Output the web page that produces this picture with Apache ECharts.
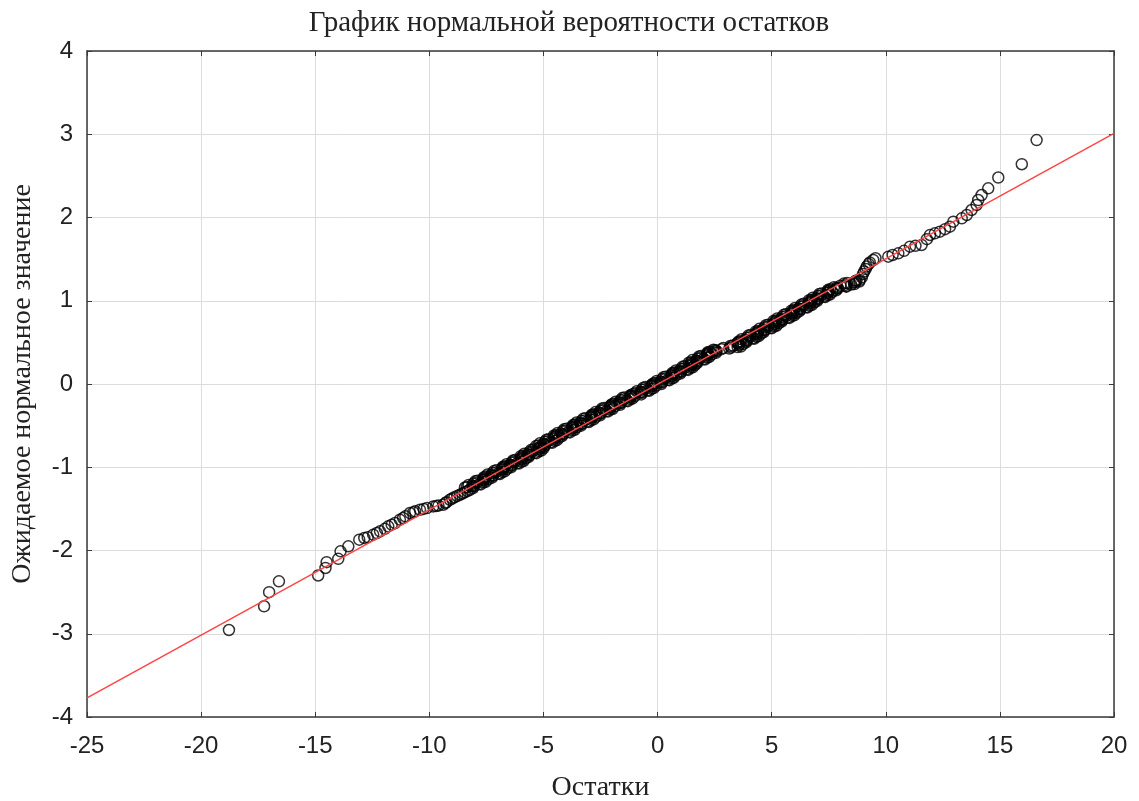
<!DOCTYPE html>
<html>
<head>
<meta charset="utf-8">
<script src="https://cdn.jsdelivr.net/npm/echarts@6/dist/echarts.min.js"></script>
<style>
  html, body { margin: 0; padding: 0; background: #fff; }
  #chart { width: 1139px; height: 801px; }
</style>
</head>
<body>
<div id="chart"></div>
<script>
// график нормальной вероятности остатков

var xTicks = [-25, 20, 5];   // min, max, step
var yTicks = [-4, 4, 1];

// остатки (x) и ожидаемые нормальные значения (y)
var resid = [
  // нижний хвост
  -18.78, -17.24, -17.02, -16.59, -14.87, -14.55, -14.50, -13.99, -13.89, -13.55,
  -13.07, -12.85, -12.70, -12.46, -12.30, -12.16, -11.95, -11.80, -11.65, -11.50,
  -11.29, -11.15, -11.05, -10.85, -10.70, -10.62, -10.41, -10.25, -10.10, -9.83,
  -9.70, -9.60, -9.39, -9.30, -9.25, -9.10, -9.00, -8.90, -8.78, -8.66,
  -8.55, -8.45, -8.33, -8.22,
  // плотная часть
  -8.08, -8.35, -8.06, -8.28, -7.80, -7.91, -7.53, -7.90, -7.62, -7.63,
  -7.25, -7.52, -7.23, -7.45, -6.97, -7.09, -6.70, -7.07, -6.79, -6.80,
  -6.42, -6.69, -6.40, -6.62, -6.14, -6.26, -5.87, -6.24, -5.96, -5.97,
  -5.64, -5.91, -5.63, -5.84, -5.36, -5.48, -5.09, -5.46, -5.18, -5.20,
  -4.96, -5.23, -4.95, -5.16, -4.68, -4.80, -4.41, -4.78, -4.50, -4.52,
  -4.18, -4.45, -4.17, -4.38, -3.90, -4.02, -3.63, -4.00, -3.72, -3.74,
  -3.35, -3.62, -3.34, -3.55, -3.07, -3.19, -2.80, -3.17, -2.89, -2.91,
  -2.52, -2.79, -2.51, -2.72, -2.24, -2.36, -1.97, -2.34, -2.06, -2.08,
  -1.64, -1.91, -1.63, -1.84, -1.36, -1.48, -1.10, -1.46, -1.18, -1.20,
  -0.71, -0.98, -0.70, -0.91, -0.43, -0.55, -0.17, -0.53, -0.25, -0.27,
  0.17, -0.10, 0.18, -0.04, 0.45, 0.33, 0.71, 0.35, 0.63, 0.61,
  1.00, 0.73, 1.01, 0.80, 1.28, 1.16, 1.54, 1.18, 1.46, 1.44,
  1.73, 1.46, 1.74, 1.52, 2.01, 1.89, 2.27, 1.91, 2.19, 2.17,
  2.56, 2.29, 2.57, 2.45, 3.14, 3.22, 3.65, 3.29, 3.57, 3.50,
  3.88, 3.62, 3.90, 3.68, 4.17, 4.05, 4.43, 4.07, 4.35, 4.33,
  4.66, 4.40, 4.68, 4.46, 4.95, 4.83, 5.21, 4.85, 5.13, 5.11,
  5.44, 5.18, 5.46, 5.24, 5.73, 5.61, 5.99, 5.62, 5.91, 5.89,
  6.22, 5.96, 6.24, 6.02, 6.51, 6.39, 6.77, 6.40, 6.69, 6.67,
  7.00, 6.74, 7.02, 6.80, 7.29, 7.17, 7.55, 7.18, 7.47, 7.45,
  7.83, 7.57, 7.90, 7.73, 8.26, 8.20, 8.63, 8.31, 8.65, 8.68,
  // верхний хвост
  8.86, 8.95, 9.00, 9.05, 9.12, 9.16, 9.25, 9.30, 9.45, 9.55,
  10.11, 10.30, 10.55, 10.80, 11.06, 11.30, 11.57, 11.80, 11.94, 12.15,
  12.37, 12.60, 12.81, 12.96, 13.33, 13.55, 13.76, 13.98, 14.05, 14.20,
  14.49, 14.93, 15.96, 16.61
];
var expNorm = [
  -2.955, -2.67, -2.50, -2.37, -2.30, -2.21, -2.14, -2.10, -2.01, -1.95,
  -1.87, -1.85, -1.84, -1.81, -1.79, -1.77, -1.74, -1.71, -1.69, -1.67,
  -1.63, -1.61, -1.59, -1.55, -1.54, -1.53, -1.51, -1.50, -1.49, -1.47,
  -1.465, -1.46, -1.45, -1.43, -1.42, -1.39, -1.375, -1.36, -1.345, -1.33,
  -1.315, -1.30, -1.285, -1.27,
  -1.2500, -1.2375, -1.2250, -1.2125, -1.2000, -1.1875, -1.1750, -1.1625, -1.1500, -1.1375,
  -1.1250, -1.1125, -1.1000, -1.0875, -1.0750, -1.0625, -1.0500, -1.0375, -1.0250, -1.0125,
  -1.0000, -0.9875, -0.9750, -0.9625, -0.9500, -0.9375, -0.9250, -0.9125, -0.9000, -0.8875,
  -0.8750, -0.8625, -0.8500, -0.8375, -0.8250, -0.8125, -0.8000, -0.7875, -0.7750, -0.7625,
  -0.7500, -0.7375, -0.7250, -0.7125, -0.7000, -0.6875, -0.6750, -0.6625, -0.6500, -0.6375,
  -0.6250, -0.6125, -0.6000, -0.5875, -0.5750, -0.5625, -0.5500, -0.5375, -0.5250, -0.5125,
  -0.5000, -0.4875, -0.4750, -0.4625, -0.4500, -0.4375, -0.4250, -0.4125, -0.4000, -0.3875,
  -0.3750, -0.3625, -0.3500, -0.3375, -0.3250, -0.3125, -0.3000, -0.2875, -0.2750, -0.2625,
  -0.2500, -0.2375, -0.2250, -0.2125, -0.2000, -0.1875, -0.1750, -0.1625, -0.1500, -0.1375,
  -0.1250, -0.1125, -0.1000, -0.0875, -0.0750, -0.0625, -0.0500, -0.0375, -0.0250, -0.0125,
  0.0000, 0.0125, 0.0250, 0.0375, 0.0500, 0.0625, 0.0750, 0.0875, 0.1000, 0.1125,
  0.1250, 0.1375, 0.1500, 0.1625, 0.1750, 0.1875, 0.2000, 0.2125, 0.2250, 0.2375,
  0.2500, 0.2625, 0.2750, 0.2875, 0.3000, 0.3125, 0.3250, 0.3375, 0.3500, 0.3625,
  0.3750, 0.3875, 0.4000, 0.4125, 0.4250, 0.4375, 0.4500, 0.4625, 0.4750, 0.4875,
  0.5000, 0.5125, 0.5250, 0.5375, 0.5500, 0.5625, 0.5750, 0.5875, 0.6000, 0.6125,
  0.6250, 0.6375, 0.6500, 0.6625, 0.6750, 0.6875, 0.7000, 0.7125, 0.7250, 0.7375,
  0.7500, 0.7625, 0.7750, 0.7875, 0.8000, 0.8125, 0.8250, 0.8375, 0.8500, 0.8625,
  0.8750, 0.8875, 0.9000, 0.9125, 0.9250, 0.9375, 0.9500, 0.9625, 0.9750, 0.9875,
  1.0000, 1.0125, 1.0250, 1.0375, 1.0500, 1.0625, 1.0750, 1.0875, 1.1000, 1.1125,
  1.1250, 1.1375, 1.1500, 1.1625, 1.1750, 1.1875, 1.2000, 1.2125, 1.2250, 1.2375,
  1.25, 1.28, 1.32, 1.35, 1.38, 1.41, 1.44, 1.46, 1.49, 1.51,
  1.53, 1.55, 1.57, 1.60, 1.65, 1.66, 1.67, 1.74, 1.79, 1.81,
  1.83, 1.86, 1.89, 1.95, 1.99, 2.03, 2.09, 2.15, 2.21, 2.27,
  2.35, 2.48, 2.64, 2.93
];

// вторая половина плотной части (промежуточные ранги)
var resid2 = [
  -8.44, -8.06, -8.12, -7.74, -8.06, -7.62, -7.99, -7.61, -7.42, -7.59,
  -7.61, -7.23, -7.29, -6.91, -7.23, -6.79, -7.16, -6.78, -6.59, -6.76,
  -6.78, -6.40, -6.46, -6.08, -6.40, -5.96, -6.33, -5.95, -5.77, -5.93,
  -6.00, -5.62, -5.68, -5.30, -5.62, -5.18, -5.55, -5.17, -4.99, -5.15,
  -5.32, -4.94, -5.00, -4.62, -4.94, -4.50, -4.87, -4.49, -4.31, -4.47,
  -4.54, -4.16, -4.22, -3.84, -4.16, -3.72, -4.09, -3.71, -3.53, -3.69,
  -3.71, -3.33, -3.39, -3.01, -3.33, -2.90, -3.26, -2.88, -2.70, -2.86,
  -2.88, -2.50, -2.56, -2.18, -2.50, -2.07, -2.43, -2.05, -1.87, -2.03,
  -2.00, -1.62, -1.68, -1.30, -1.62, -1.19, -1.55, -1.17, -0.99, -1.15,
  -1.07, -0.69, -0.75, -0.37, -0.69, -0.26, -0.62, -0.24, -0.06, -0.22,
  -0.19, 0.19, 0.13, 0.51, 0.19, 0.63, 0.26, 0.64, 0.82, 0.66,
  0.64, 1.02, 0.96, 1.34, 1.02, 1.45, 1.09, 1.47, 1.65, 1.49,
  1.37, 1.75, 1.69, 2.07, 1.75, 2.18, 1.82, 2.20, 2.38, 2.22,
  2.20, 2.58, 2.51, 2.80, 2.88, 3.51, 3.19, 3.58, 3.76, 3.54,
  3.53, 3.91, 3.85, 4.23, 3.91, 4.34, 3.98, 4.36, 4.54, 4.38,
  4.31, 4.69, 4.62, 5.00, 4.69, 5.12, 4.75, 5.14, 5.32, 5.15,
  5.08, 5.47, 5.40, 5.78, 5.47, 5.90, 5.53, 5.92, 6.10, 5.93,
  5.86, 6.25, 6.18, 6.56, 6.25, 6.68, 6.31, 6.70, 6.88, 6.71,
  6.64, 7.03, 6.96, 7.34, 7.03, 7.46, 7.09, 7.48, 7.66, 7.49,
  7.47, 7.86, 7.84, 8.27, 8.01, 8.49, 8.17, 8.60, 8.84, 8.72
];
var expNorm2 = [
  -1.24375, -1.23125, -1.21875, -1.20625, -1.19375, -1.18125, -1.16875, -1.15625, -1.14375, -1.13125,
  -1.11875, -1.10625, -1.09375, -1.08125, -1.06875, -1.05625, -1.04375, -1.03125, -1.01875, -1.00625,
  -0.99375, -0.98125, -0.96875, -0.95625, -0.94375, -0.93125, -0.91875, -0.90625, -0.89375, -0.88125,
  -0.86875, -0.85625, -0.84375, -0.83125, -0.81875, -0.80625, -0.79375, -0.78125, -0.76875, -0.75625,
  -0.74375, -0.73125, -0.71875, -0.70625, -0.69375, -0.68125, -0.66875, -0.65625, -0.64375, -0.63125,
  -0.61875, -0.60625, -0.59375, -0.58125, -0.56875, -0.55625, -0.54375, -0.53125, -0.51875, -0.50625,
  -0.49375, -0.48125, -0.46875, -0.45625, -0.44375, -0.43125, -0.41875, -0.40625, -0.39375, -0.38125,
  -0.36875, -0.35625, -0.34375, -0.33125, -0.31875, -0.30625, -0.29375, -0.28125, -0.26875, -0.25625,
  -0.24375, -0.23125, -0.21875, -0.20625, -0.19375, -0.18125, -0.16875, -0.15625, -0.14375, -0.13125,
  -0.11875, -0.10625, -0.09375, -0.08125, -0.06875, -0.05625, -0.04375, -0.03125, -0.01875, -0.00625,
  0.00625, 0.01875, 0.03125, 0.04375, 0.05625, 0.06875, 0.08125, 0.09375, 0.10625, 0.11875,
  0.13125, 0.14375, 0.15625, 0.16875, 0.18125, 0.19375, 0.20625, 0.21875, 0.23125, 0.24375,
  0.25625, 0.26875, 0.28125, 0.29375, 0.30625, 0.31875, 0.33125, 0.34375, 0.35625, 0.36875,
  0.38125, 0.39375, 0.40625, 0.41875, 0.43125, 0.44375, 0.45625, 0.46875, 0.48125, 0.49375,
  0.50625, 0.51875, 0.53125, 0.54375, 0.55625, 0.56875, 0.58125, 0.59375, 0.60625, 0.61875,
  0.63125, 0.64375, 0.65625, 0.66875, 0.68125, 0.69375, 0.70625, 0.71875, 0.73125, 0.74375,
  0.75625, 0.76875, 0.78125, 0.79375, 0.80625, 0.81875, 0.83125, 0.84375, 0.85625, 0.86875,
  0.88125, 0.89375, 0.90625, 0.91875, 0.93125, 0.94375, 0.95625, 0.96875, 0.98125, 0.99375,
  1.00625, 1.01875, 1.03125, 1.04375, 1.05625, 1.06875, 1.08125, 1.09375, 1.10625, 1.11875,
  1.13125, 1.14375, 1.15625, 1.16875, 1.18125, 1.19375, 1.20625, 1.21875, 1.23125, 1.24375
];

// прямая нормального распределения (концы)
var lineX = [-25, 20];
var lineY = [-3.77, 3.01];

var points = resid.map(function (v, i) { return [v, expNorm[i]]; })
    .concat(resid2.map(function (v, i) { return [v, expNorm2[i]]; }));
var linePts = lineX.map(function (v, i) { return [v, lineY[i]]; });

var axisCol = '#3a3a3a';
var tickFont = { color: '#222', fontSize: 24, fontFamily: 'Liberation Sans' };
var nameFont = { color: '#222', fontSize: 28, fontFamily: 'Liberation Serif' };

function mirror(type, pos) {
    var ax = {
        type: 'value',
        position: pos,
        axisLine: { show: true, onZero: false, lineStyle: { color: axisCol, width: 1.5 } },
        axisTick: { show: true, inside: true, length: 5, lineStyle: { color: axisCol } },
        axisLabel: { show: false },
        splitLine: { show: false }
    };
    if (type == 'x') {
        ax.min = xTicks[0]; ax.max = xTicks[1]; ax.interval = xTicks[2];
    } else {
        ax.min = yTicks[0]; ax.max = yTicks[1]; ax.interval = yTicks[2];
    }
    return ax;
}

var option = {
    animation: false,
    title: {
        text: 'График нормальной вероятности остатков',
        left: 564,
        top: 4,
        textAlign: 'center',
        textStyle: { color: '#222', fontSize: 29, fontWeight: 'normal', fontFamily: 'Liberation Serif' }
    },
    grid: { left: 87, right: 25, top: 51, bottom: 84, containLabel: false, outerBoundsMode: 'none' },
    xAxis: [{
        type: 'value',
        min: xTicks[0],
        max: xTicks[1],
        interval: xTicks[2],
        name: 'Остатки',
        nameLocation: 'middle',
        nameGap: 57,
        nameTextStyle: nameFont,
        axisLine: { show: true, onZero: false, lineStyle: { color: axisCol, width: 1.5 } },
        axisTick: { show: true, inside: true, length: 5, lineStyle: { color: axisCol } },
        axisLabel: Object.assign({ margin: 17 }, tickFont),
        splitLine: { show: true, lineStyle: { color: '#dcdcdc', width: 1 } }
    }, mirror('x', 'top')],
    yAxis: [{
        type: 'value',
        min: yTicks[0],
        max: yTicks[1],
        interval: yTicks[2],
        name: 'Ожидаемое нормальное значение',
        nameLocation: 'middle',
        nameGap: 50,
        nameTextStyle: nameFont,
        axisLine: { show: true, onZero: false, lineStyle: { color: axisCol, width: 1.5 } },
        axisTick: { show: true, inside: true, length: 5, lineStyle: { color: axisCol } },
        axisLabel: Object.assign({ margin: 14 }, tickFont),
        splitLine: { show: true, lineStyle: { color: '#dcdcdc', width: 1 } }
    }, mirror('y', 'right')],
    series: [
        {
            type: 'scatter',
            data: points,
            symbol: 'circle',
            symbolSize: 11,
            itemStyle: { color: 'rgba(0,0,0,0)', borderColor: '#000', borderWidth: 1.5 },
            z: 2
        },
        {
            type: 'line',
            data: linePts,
            symbol: 'none',
            lineStyle: { color: '#ff4545', width: 1.5 },
            z: 3
        }
    ]
};

var myChart = echarts.init(document.getElementById('chart'));
myChart.setOption(option);
</script>
</body>
</html>
